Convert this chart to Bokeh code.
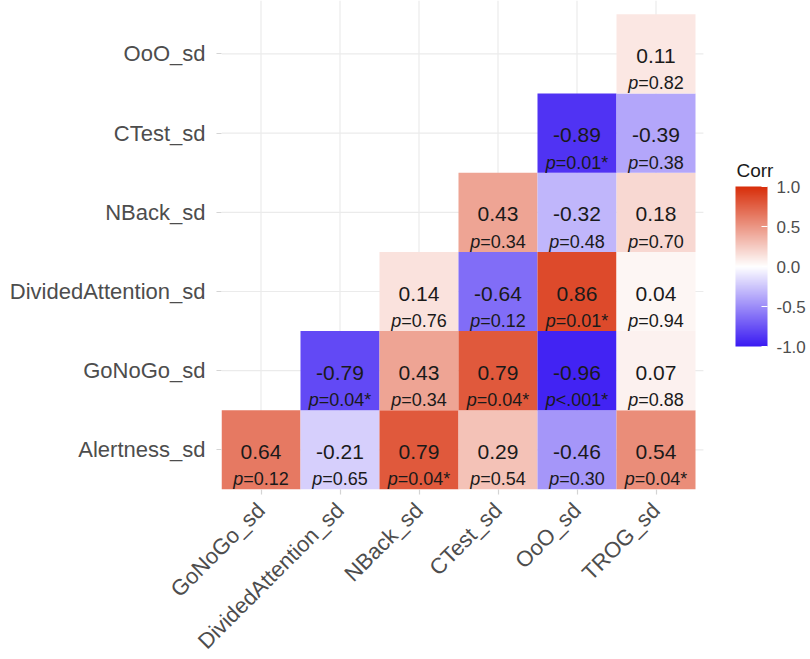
import math
from bokeh.plotting import figure
from bokeh.models import (ColumnDataSource, LinearColorMapper, ColorBar, FixedTicker,
                          PrintfTickFormatter, Range1d, Label)
from bokeh.core.properties import value
from bokeh.embed import file_html
from bokeh.resources import INLINE

# ---------------- data ----------------
x_vars = ["GoNoGo_sd", "DividedAttention_sd", "NBack_sd", "CTest_sd", "OoO_sd", "TROG_sd"]
y_vars = ["Alertness_sd", "GoNoGo_sd", "DividedAttention_sd", "NBack_sd", "CTest_sd", "OoO_sd"]

cell_x = ["GoNoGo_sd", "DividedAttention_sd", "NBack_sd", "CTest_sd", "OoO_sd", "TROG_sd",
          "DividedAttention_sd", "NBack_sd", "CTest_sd", "OoO_sd", "TROG_sd",
          "NBack_sd", "CTest_sd", "OoO_sd", "TROG_sd",
          "CTest_sd", "OoO_sd", "TROG_sd",
          "OoO_sd", "TROG_sd",
          "TROG_sd"]
cell_y = ["Alertness_sd"] * 6 + ["GoNoGo_sd"] * 5 + ["DividedAttention_sd"] * 4 + \
         ["NBack_sd"] * 3 + ["CTest_sd"] * 2 + ["OoO_sd"]
corr = [0.64, -0.21, 0.79, 0.29, -0.46, 0.54,
        -0.79, 0.43, 0.79, -0.96, 0.07,
        0.14, -0.64, 0.86, 0.04,
        0.43, -0.32, 0.18,
        -0.89, -0.39,
        0.11]
p_text = ["=0.12", "=0.65", "=0.04*", "=0.54", "=0.30", "=0.04*",
          "=0.04*", "=0.34", "=0.04*", "<.001*", "=0.88",
          "=0.76", "=0.12", "=0.01*", "=0.94",
          "=0.34", "=0.48", "=0.70",
          "=0.01*", "=0.38",
          "=0.82"]
legend_ticks = [-1.0, -0.5, 0.0, 0.5, 1.0]

# ---------------- colour scale (blue - white - red) ----------------
LOW, MID, HIGH = "#3A1AF2", "#FFFFFF", "#D82E0A"


def _h2rgb(h):
    h = h.lstrip("#")
    return [int(h[i:i + 2], 16) for i in (0, 2, 4)]


c_low, c_mid, c_high = _h2rgb(LOW), _h2rgb(MID), _h2rgb(HIGH)
palette = []
N = 256
for i in range(N):
    t = -1 + 2 * i / (N - 1)
    end = c_low if t < 0 else c_high
    s = abs(t)
    palette.append("#%02x%02x%02x" % tuple(
        int(round(c_mid[k] + (end[k] - c_mid[k]) * s)) for k in range(3)))

mapper = LinearColorMapper(palette=palette, low=-1, high=1)

# ---------------- geometry ----------------
BL, BT, BR, BB = 221, 0, 2, 164
FW, FH = 810 - BL - BR, 489
UX, UY = 79.0, 79.2
x_end = 0.5 + FW / UX
y_end = 0.5 + FH / UY
panel_right = 6.6

FONT = "Liberation Sans"
CW = {"0": 556, "1": 556, "2": 556, "3": 556, "4": 556, "5": 556, "6": 556, "7": 556,
      "8": 556, "9": 556, ".": 278, "=": 584, "<": 584, "*": 389, "p": 556}
PSIZE = 18


def _w(s):
    return sum(CW[c] for c in s) * PSIZE / 1000.0


xi = [x_vars.index(v) + 1 for v in cell_x]
yi = [y_vars.index(v) + 1 for v in cell_y]
joff = [(_w("p") - _w(s)) / 2 for s in p_text]

src = ColumnDataSource(dict(
    xi=xi, yi=yi, corr=corr,
    corr_lab=["%.2f" % c for c in corr],
    pch=["p"] * len(corr), prest=p_text, joff=joff,
))

p = figure(frame_width=FW, frame_height=FH,
           x_range=Range1d(0.5, x_end), y_range=Range1d(0.5, y_end),
           output_backend="svg", toolbar_location=None,
           min_border_left=BL, min_border_right=BR, min_border_top=BT, min_border_bottom=BB,
           background_fill_color="white", border_fill_color="white")
p.outline_line_color = None
p.xgrid.visible = False
p.ygrid.visible = False

# grid lines (under tiles)
gx = list(range(1, len(x_vars) + 1))
gy = list(range(1, len(y_vars) + 1))
p.segment(x0=gx, x1=gx, y0=[0.5] * len(gx), y1=[y_end] * len(gx),
          line_color="#EBEBEB", line_width=1.2)
p.segment(x0=[0.5] * len(gy), x1=[panel_right] * len(gy), y0=gy, y1=gy,
          line_color="#EBEBEB", line_width=1.2)

# tiles
p.rect(x="xi", y="yi", width=1, height=1, source=src,
       fill_color={"field": "corr", "transform": mapper}, line_color=None)

# cell labels
p.text(x="xi", y="yi", text="corr_lab", source=src, y_offset=2,
       text_font=value(FONT), text_font_size="21px", text_color="#1a1a1a",
       text_align="center", text_baseline="middle")
p.text(x="xi", y="yi", text="pch", source=src, x_offset="joff", y_offset=29.5,
       text_font=value(FONT), text_font_size="%dpx" % PSIZE, text_font_style="italic",
       text_color="#1a1a1a", text_align="right", text_baseline="middle")
p.text(x="xi", y="yi", text="prest", source=src, x_offset="joff", y_offset=29.5,
       text_font=value(FONT), text_font_size="%dpx" % PSIZE,
       text_color="#1a1a1a", text_align="left", text_baseline="middle")

# axes
p.xaxis.ticker = FixedTicker(ticks=gx)
p.xaxis.major_label_overrides = {i + 1: v for i, v in enumerate(x_vars)}
p.xaxis.major_label_orientation = math.pi / 4
p.yaxis.ticker = FixedTicker(ticks=gy)
p.yaxis.major_label_overrides = {i + 1: v for i, v in enumerate(y_vars)}
for ax in (p.xaxis, p.yaxis):
    ax.axis_line_color = None
    ax.minor_tick_line_color = None
    ax.major_tick_line_color = "#D4D4D4"
    ax.major_tick_line_width = 1.2
    ax.major_tick_out = 5
    ax.major_tick_in = 0
    ax.major_label_text_font = FONT
    ax.major_label_text_color = "#4D4D4D"
    ax.major_label_text_font_size = "22px"
p.yaxis.major_label_standoff = 11
p.xaxis.major_label_standoff = 12

# colour bar
cb = ColorBar(color_mapper=mapper, orientation="vertical", location=(514, 143),
              width=32, height=160, padding=0, title=None,
              ticker=FixedTicker(ticks=legend_ticks),
              formatter=PrintfTickFormatter(format="%.1f"),
              major_label_text_font=FONT, major_label_text_font_size="17px",
              major_label_text_color="#4D4D4D", label_standoff=9,
              major_tick_line_color="white", major_tick_in=6, major_tick_out=0,
              minor_tick_line_color=None, bar_line_color=None, border_line_color=None,
              background_fill_color=None)
p.add_layout(cb)
p.add_layout(Label(x=515, y=319, x_units="screen", y_units="screen", text="Corr",
                   text_font=FONT, text_font_size="19px", text_color="#1a1a1a",
                   text_baseline="alphabetic", text_align="left"))

open("out.html", "w").write(file_html(p, INLINE))
